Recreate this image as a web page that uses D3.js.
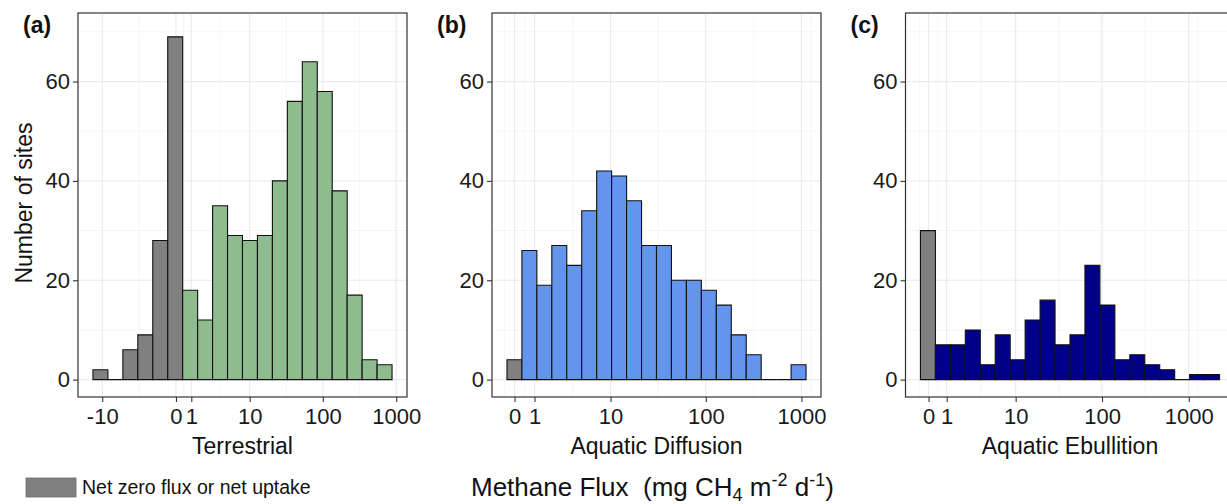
<!DOCTYPE html>
<html>
<head>
<meta charset="utf-8">
<script src="https://cdn.jsdelivr.net/npm/d3@7"></script>
<style>
	body { margin: 0; background: #fff; }
	svg { display: block; font-family: "Liberation Sans", Arial, sans-serif; }
</style>
</head>
<body>
<svg id="chart" width="1227" height="504"></svg>
<script>
// counts per bin (20 bins per panel)
var terrCounts = [2, 0, 6, 9, 28, 69, 18, 12, 35, 29, 28, 29, 40, 56, 64, 58, 38, 17, 4, 3];
var diffCounts = [4, 26, 19, 27, 23, 34, 42, 41, 36, 27, 27, 20, 20, 18, 15, 9, 5, 0, 0, 3];
var ebulCounts = [30, 7, 7, 10, 3, 9, 4, 12, 16, 7, 9, 23, 15, 4, 5, 3, 2, 0, 1, 1];

// how many leading bins are net zero / uptake (grey)
var grayBins = [6, 1, 1];

// bin layout on the pseudo-log axis, asinh(x/2) units
var binStarts = [-2.603, -0.182, -0.215];
var binWidths = [0.469, 0.36, 0.397];

var panelNames = ['Terrestrial', 'Aquatic Diffusion', 'Aquatic Ebullition'];
var panelTags = ['(a)', '(b)', '(c)'];
var panelColors = ['#8fbc8f', '#6495ed', '#00008b'];
var xTicks = [[-10, 0, 1, 10, 100, 1000], [0, 1, 10, 100, 1000], [0, 1, 10, 100, 1000]];
var yTicks = [0, 20, 40, 60];

var svg = d3.select('#chart');
var panelLeft = [78, 492, 905.5], panelW = 329, panelTop = 13, panelH = 384;

var pseudoLog = function (v) { return Math.asinh(v / 2); };

var y = d3.scaleLinear().domain([-3.5, 73.8]).range([panelTop + panelH, panelTop]);

function minorBreaks(b, lim) {
	var bd = b[1] - b[0], ext = b.slice(), out = [];
	if (lim[0] < b[0]) ext.unshift(b[0] - bd);
	if (lim[1] > b[b.length - 1]) ext.push(b[b.length - 1] + bd);
	for (var i = 0; i < ext.length - 1; i++) out.push((ext[i] + ext[i + 1]) / 2);
	return out.filter(function (m) { return m > lim[0] && m < lim[1]; });
}

function drawPanel(idx, counts) {
	var x0 = panelLeft[idx], start = binStarts[idx], w = binWidths[idx], n = counts.length;
	var lim = [start - w, start + (n + 1) * w];
	var x = d3.scaleLinear().domain(lim).range([x0, x0 + panelW]);
	var g = svg.append('g').attr('class', 'panel_' + idx);

	var tb = xTicks[idx].map(pseudoLog);

	// grid, minor first
	g.selectAll('line.ymin').data(minorBreaks(yTicks, y.domain())).enter().append('line')
		.attr('x1', x0).attr('x2', x0 + panelW)
		.attr('y1', function (d) { return y(d); }).attr('y2', function (d) { return y(d); })
		.style('stroke', '#f2f2f2').style('stroke-width', 0.7);
	g.selectAll('line.xmin').data(minorBreaks(tb, lim)).enter().append('line')
		.attr('y1', panelTop).attr('y2', panelTop + panelH)
		.attr('x1', function (d) { return x(d); }).attr('x2', function (d) { return x(d); })
		.style('stroke', '#f2f2f2').style('stroke-width', 0.7);
	g.selectAll('line.ymaj').data(yTicks).enter().append('line')
		.attr('x1', x0).attr('x2', x0 + panelW)
		.attr('y1', function (d) { return y(d); }).attr('y2', function (d) { return y(d); })
		.style('stroke', '#ebebeb').style('stroke-width', 1.2);
	g.selectAll('line.xmaj').data(tb).enter().append('line')
		.attr('y1', panelTop).attr('y2', panelTop + panelH)
		.attr('x1', function (d) { return x(d); }).attr('x2', function (d) { return x(d); })
		.style('stroke', '#ebebeb').style('stroke-width', 1.2);

	// bars as paths so zero-count bins still show their base line
	g.selectAll('path.bar').data(counts).enter().append('path')
		.attr('class', 'bar')
		.attr('d', function (d, i) {
			var a = x(start + i * w), b = x(start + (i + 1) * w);
			return 'M' + a + ',' + y(0) + 'V' + y(d) + 'H' + b + 'V' + y(0) + 'Z';
		})
		.style('fill', function (d, i) { return i < grayBins[idx] ? '#808080' : panelColors[idx]; })
		.style('stroke', '#111')
		.style('stroke-width', 1.1);

	// border
	g.append('rect').attr('x', x0).attr('y', panelTop).attr('width', panelW).attr('height', panelH)
		.style('fill', 'none').style('stroke', '#333').style('stroke-width', 1.2);

	// y axis
	var yAxis = d3.axisLeft(y).tickValues(yTicks).tickSize(5).tickPadding(3);
	var ya = g.append('g').attr('transform', 'translate(' + x0 + ',0)').call(yAxis);
	// x axis
	var xAxis = d3.axisBottom(x).tickValues(tb).tickSize(5).tickPadding(6)
		.tickFormat(function (d, i) { return String(xTicks[idx][i]); });
	var xa = g.append('g').attr('transform', 'translate(0,' + (panelTop + panelH) + ')').call(xAxis);
	[ya, xa].forEach(function (a) {
		a.select('.domain').remove();
		a.selectAll('.tick line').style('stroke', '#333').style('stroke-width', 1.1);
		a.selectAll('.tick text').style('font-size', '22px').style('fill', '#1a1a1a')
			.style('font-family', '"Liberation Sans", Arial, sans-serif');
	});

	g.append('text').attr('x', x0 + panelW / 2).attr('y', 454)
		.attr('text-anchor', 'middle').style('font-size', '23px').style('fill', '#111')
		.text(panelNames[idx]);
	g.append('text').attr('x', x0 - 55).attr('y', 33)
		.style('font-size', '23px').style('font-weight', 'bold').style('fill', '#111')
		.text(panelTags[idx]);
}

drawPanel(0, terrCounts);
drawPanel(1, diffCounts);
drawPanel(2, ebulCounts);

svg.append('text').attr('transform', 'translate(32,' + (panelTop + panelH / 2 - 2) + ') rotate(-90)')
	.attr('text-anchor', 'middle').style('font-size', '23px').style('fill', '#111')
	.text('Number of sites');

// legend
svg.append('rect').attr('x', 26).attr('y', 478).attr('width', 50).attr('height', 19)
	.style('fill', '#808080').style('stroke', '#6a6a6a').style('stroke-width', 0.8);
svg.append('text').attr('x', 82).attr('y', 494).style('font-size', '19.5px').style('fill', '#111')
	.text('Net zero flux or net uptake');

// shared x title
var title = svg.append('text').attr('x', 471).attr('y', 496).style('font-size', '26px')
	.style('fill', '#111').attr('xml:space', 'preserve');
title.append('tspan').text('Methane Flux  (mg CH');
title.append('tspan').attr('dy', 5).style('font-size', '18px').text('4');
title.append('tspan').attr('dy', -5).text(' m');
title.append('tspan').attr('dy', -10).style('font-size', '18px').text('-2');
title.append('tspan').attr('dy', 10).text(' d');
title.append('tspan').attr('dy', -10).style('font-size', '18px').text('-1');
title.append('tspan').attr('dy', 10).text(')');
</script>
</body>
</html>
